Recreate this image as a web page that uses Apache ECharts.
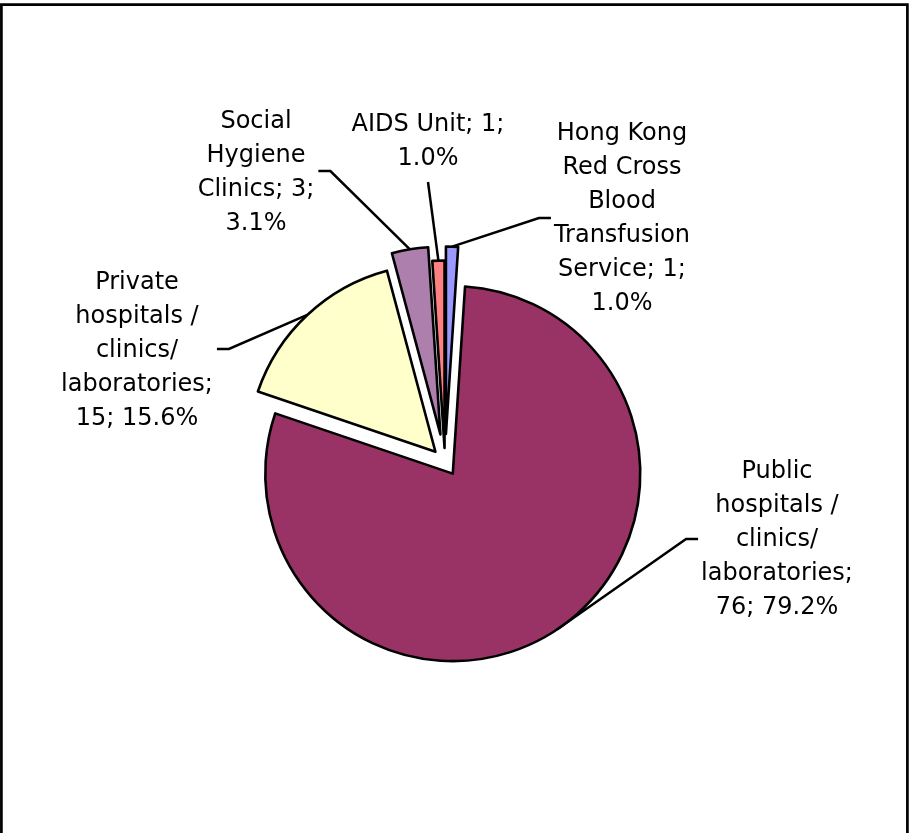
<!DOCTYPE html>
<html>
<head>
<meta charset="utf-8">
<script src="https://cdn.jsdelivr.net/npm/echarts@6/dist/echarts.min.js"></script>
<style>
  html, body { margin: 0; padding: 0; background: #ffffff; }
  #chart { width: 910px; height: 833px; }
</style>
</head>
<body>
<div id="chart"></div>
<script>
// Sources of reported cases (clockwise from 12 o'clock)
const categories = [
  'Hong Kong Red Cross Blood Transfusion Service',
  'Public hospitals / clinics/ laboratories',
  'Private hospitals / clinics/ laboratories',
  'Social Hygiene Clinics',
  'AIDS Unit'
];
const cases = [1, 76, 15, 3, 1];

// ---- styling / layout ----
const CENTER = [445, 462];
const RADIUS = 187.5;
const FONT = 'DejaVu Sans';

// 1px checkerboard tile used as a hatched fill
function checker(fg, bg) {
  const c = document.createElement('canvas');
  c.width = 2; c.height = 2;
  const g = c.getContext('2d');
  g.fillStyle = bg; g.fillRect(0, 0, 2, 2);
  g.fillStyle = fg; g.fillRect(0, 0, 1, 1); g.fillRect(1, 1, 1, 1);
  return c;
}

const sliceFills = [
  '#9999ff',
  '#993366',
  '#ffffcc',
  { image: checker('#5c005c', '#ffffff'), repeat: 'repeat' },
  '#ff8080'
];

// explosion distance of each slice (px) and where its label sits
const explode = [28, 14, 14, 28, 14];
const labelSpots = [
  { x: 622, y: 219, side: 'left', wrap: 12 },
  { x: 777, y: 540, side: 'left', wrap: 13 },
  { x: 137, y: 351, side: 'right', wrap: 13 },
  { x: 256, y: 173, side: 'right', wrap: 11 },
  { x: 428, y: 142, side: 'bottom', wrap: 13 }
];

const total = cases.reduce((a, b) => a + b, 0);

function wrap(text, max) {
  const words = text.split(' ');
  const lines = [];
  let cur = '';
  for (const w of words) {
    if (!cur) cur = w;
    else if ((cur + ' ' + w).length <= max) cur += ' ' + w;
    else { lines.push(cur); cur = w; }
  }
  if (cur) lines.push(cur);
  return lines.join('\n');
}

function labelText(i) {
  const pct = (cases[i] / total * 100).toFixed(1);
  return wrap(categories[i] + '; ' + cases[i] + '; ' + pct + '%', labelSpots[i].wrap);
}

const hidden = { color: 'rgba(0,0,0,0)', borderWidth: 0 };
const groups = [...new Set(explode)];

// one drawing series per explosion distance
const sliceSeries = groups.map(off => ({
  type: 'pie',
  center: CENTER,
  radius: RADIUS,
  startAngle: 90,
  clockwise: true,
  silent: true,
  animation: false,
  selectedMode: 'multiple',
  selectedOffset: off,
  label: { show: false },
  labelLine: { show: false },
  data: cases.map((v, i) => {
    const mine = explode[i] === off;
    return {
      name: categories[i],
      value: v,
      selected: mine,
      itemStyle: mine
        ? { color: sliceFills[i], borderColor: '#000000', borderWidth: 2.6 }
        : hidden
    };
  })
}));

// label series: outer edge of each ring sits on the exploded slice edge
const labelSeries = groups.map(off => ({
  type: 'pie',
  center: CENTER,
  radius: RADIUS + off,
  startAngle: 90,
  clockwise: true,
  silent: true,
  animation: false,
  avoidLabelOverlap: false,
  z: 5,
  label: {
    show: true,
    position: 'outside',
    color: '#000000',
    fontFamily: FONT,
    fontSize: 24,
    lineHeight: 34,
    formatter: p => labelText(p.dataIndex)
  },
  labelLine: {
    show: true,
    length: 10,
    length2: 10,
    lineStyle: { color: '#000000', width: 2.5 }
  },
  labelLayout: function (p) {
    const i = p.dataIndex;
    if (explode[i] !== off || !p.labelLinePoints) return {};
    const s = labelSpots[i];
    const w = p.labelRect.width, h = p.labelRect.height;
    const a = p.labelLinePoints[0];
    let pts;
    if (s.side === 'right') {
      const ex = s.x + w / 2 + 4;
      pts = [a, [ex + 12, s.y - 2], [ex, s.y - 2]];
    } else if (s.side === 'left') {
      const ex = s.x - w / 2 - 3;
      pts = [a, [ex - 12, s.y - 1], [ex, s.y - 1]];
    } else {
      const ey = s.y + h / 2 + 6;
      pts = [a, [s.x, ey]];
    }
    return {
      x: s.x, y: s.y,
      align: 'center', verticalAlign: 'middle',
      labelLinePoints: pts
    };
  },
  data: cases.map((v, i) => {
    const mine = explode[i] === off;
    return {
      name: categories[i],
      value: v,
      itemStyle: hidden,
      label: { show: mine },
      labelLine: { show: mine }
    };
  })
}));

const chart = echarts.init(document.getElementById('chart'), null, { renderer: 'canvas' });
chart.setOption({
  backgroundColor: '#ffffff',
  animation: false,
  graphic: [{
    type: 'rect',
    silent: true,
    shape: { x: 1.4, y: 4.6, width: 906, height: 900 },
    style: { fill: 'none', stroke: '#000000', lineWidth: 2.7 }
  }],
  series: sliceSeries.concat(labelSeries)
});
</script>
</body>
</html>
